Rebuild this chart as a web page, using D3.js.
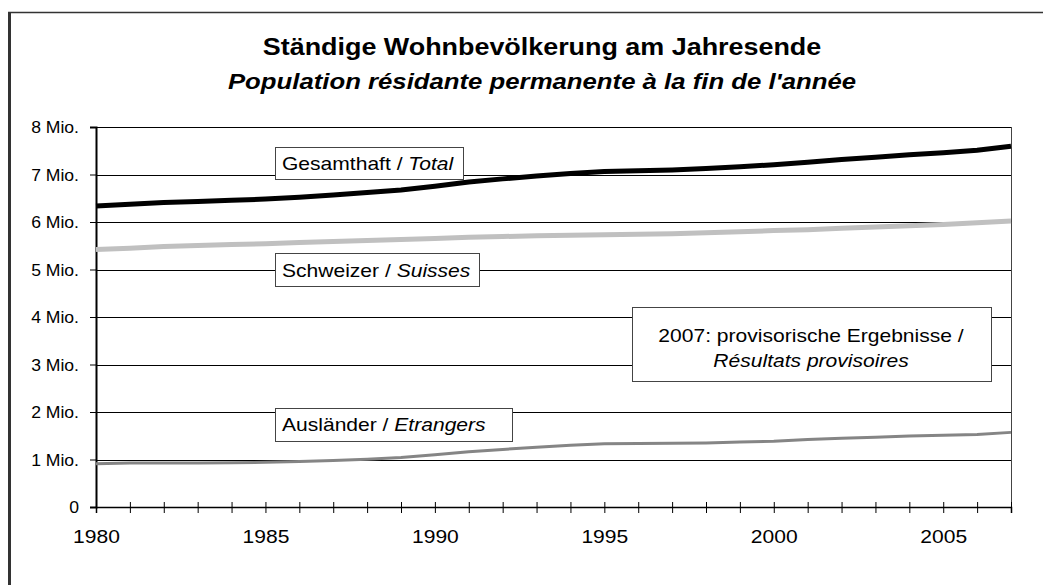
<!DOCTYPE html>
<html>
<head>
<meta charset="utf-8">
<script src="https://cdn.jsdelivr.net/npm/d3@7"></script>
<style>
  body { margin: 0; background: #fff; }
  text { font-family: "Liberation Sans", Arial, sans-serif; fill: #000; }
</style>
</head>
<body>
<div id="root"></div>
<script>
const years = d3.range(1980, 2008);

// population in millions, end of year
const total = [6.335, 6.372, 6.410, 6.429, 6.456, 6.484, 6.523, 6.566, 6.619, 6.674,
  6.751, 6.842, 6.908, 6.969, 7.019, 7.062, 7.081, 7.096, 7.124, 7.164,
  7.204, 7.256, 7.314, 7.364, 7.415, 7.459, 7.509, 7.593];
const swiss = [5.422, 5.446, 5.485, 5.503, 5.524, 5.544, 5.567, 5.587, 5.612, 5.634,
  5.651, 5.679, 5.695, 5.709, 5.719, 5.731, 5.744, 5.755, 5.776, 5.795,
  5.820, 5.837, 5.867, 5.893, 5.920, 5.947, 5.985, 6.022];
const foreign = [0.913, 0.926, 0.925, 0.926, 0.932, 0.940, 0.956, 0.979, 1.007, 1.040,
  1.100, 1.163, 1.213, 1.260, 1.300, 1.331, 1.337, 1.341, 1.348, 1.369,
  1.384, 1.419, 1.447, 1.471, 1.495, 1.512, 1.524, 1.571];

const yTicks = [0, 1, 2, 3, 4, 5, 6, 7, 8];
const xLabels = [1980, 1985, 1990, 1995, 2000, 2005];

const width = 1043;
const height = 585;
// the original text is a bit wider than it is tall
const stretch = 1.17;

var svg = d3.select("#root").append("svg")
  .attr("width", width)
  .attr("height", height);

// outer frame
svg.append("line").attr("x1", 9.5).attr("x2", 9.5).attr("y1", 12).attr("y2", height)
  .attr("stroke", "#333").attr("stroke-width", 3);
svg.append("line").attr("x1", 8).attr("x2", width).attr("y1", 12.5).attr("y2", 12.5)
  .attr("stroke", "#333").attr("stroke-width", 1.5);

function stretchedText(tx, ty, size, anchor) {
  return svg.append("text")
    .attr("transform", "translate(" + tx + "," + ty + ") scale(" + stretch + ",1)")
    .attr("text-anchor", anchor || "start")
    .style("font-size", size + "px");
}

// title
stretchedText(542, 55, 23, "middle").style("font-weight", "bold")
  .text("Ständige Wohnbevölkerung am Jahresende");
stretchedText(542, 89, 22, "middle").style("font-weight", "bold")
  .style("font-style", "italic")
  .text("Population résidante permanente à la fin de l'année");

var x = d3.scaleLinear().domain([1980, 2007]).range([96, 1011]);
var y = d3.scaleLinear().domain([0, 8]).range([507, 127]);

// gridlines
svg.append("g").selectAll("line")
  .data(yTicks.filter(d => d > 0))
  .enter().append("line")
  .attr("x1", x(1980)).attr("x2", x(2007))
  .attr("y1", d => Math.round(y(d)) + 0.5).attr("y2", d => Math.round(y(d)) + 0.5)
  .attr("stroke", "#000").attr("stroke-width", 1);

// right border
svg.append("line").attr("x1", x(2007) + 0.5).attr("x2", x(2007) + 0.5)
  .attr("y1", y(8)).attr("y2", y(0))
  .attr("stroke", "#444").attr("stroke-width", 1);

// y axis
var yAxis = d3.axisLeft(y)
  .tickValues(yTicks)
  .tickSize(6)
  .tickFormat(d => d === 0 ? "0" : d + " Mio.");
var gy = svg.append("g").attr("transform", "translate(" + x(1980) + ",0)").call(yAxis);
gy.select(".domain").attr("stroke", "#000").attr("stroke-width", 2);
gy.selectAll(".tick line").attr("stroke", "#000");
gy.selectAll(".tick text")
  .attr("x", -17 / 1.1).attr("dy", "0.35em")
  .attr("transform", "scale(1.1,1)")
  .style("font-size", "16px").style("font-family", "Liberation Sans, Arial, sans-serif")
  .attr("fill", "#000");

// x axis
var xAxis = d3.axisBottom(x)
  .tickValues(years)
  .tickSize(6)
  .tickFormat(d => xLabels.includes(d) ? d : "");
var gx = svg.append("g").attr("transform", "translate(0," + y(0) + ")").call(xAxis);
gx.select(".domain").attr("stroke", "#000").attr("stroke-width", 1.5);
gx.selectAll(".tick line").attr("stroke", "#000").attr("y1", -5).attr("y2", 6);
gx.selectAll(".tick text").attr("y", 23).attr("dy", "0.71em")
  .attr("transform", "scale(" + stretch + ",1)")
  .style("font-size", "18px").style("font-family", "Liberation Sans, Arial, sans-serif")
  .attr("fill", "#000");

// series
var line = d3.line()
  .x((d, i) => x(years[i]))
  .y(d => y(d));

svg.append("path").datum(swiss).attr("d", line)
  .attr("fill", "none").attr("stroke", "#c0c0c0").attr("stroke-width", 5);
svg.append("path").datum(foreign).attr("d", line)
  .attr("fill", "none").attr("stroke", "#858585").attr("stroke-width", 3);
svg.append("path").datum(total).attr("d", line)
  .attr("fill", "none").attr("stroke", "#000").attr("stroke-width", 5);

// label boxes
function labelBox(bx, by, bw, bh) {
  svg.append("rect").attr("x", bx + 0.5).attr("y", by + 0.5)
    .attr("width", bw).attr("height", bh)
    .attr("fill", "#fff").attr("stroke", "#444").attr("stroke-width", 1);
}
function labelText(tx, ty, normal, italic, anchor) {
  var t = stretchedText(tx, ty, 18, anchor);
  if (normal) t.append("tspan").text(normal);
  if (italic) t.append("tspan").style("font-style", "italic").text(italic);
}

labelBox(275, 147, 188, 32);
labelText(282, 170, "Gesamthaft / ", "Total");

labelBox(275, 253, 204, 33);
labelText(282, 277, "Schweizer / ", "Suisses");

labelBox(275, 408, 237, 33);
labelText(282, 431, "Ausländer / ", "Etrangers");

labelBox(632, 307, 359, 74);
labelText(811, 342, "2007: provisorische Ergebnisse /", null, "middle");
labelText(811, 367, null, "Résultats provisoires", "middle");
</script>
</body>
</html>
